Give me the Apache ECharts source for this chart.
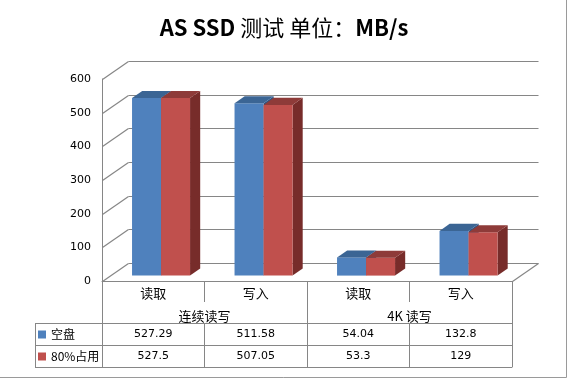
<!DOCTYPE html>
<html>
<head>
<meta charset="utf-8">
<title>AS SSD 测试</title>
<script src="https://cdn.jsdelivr.net/npm/echarts@6/dist/echarts.min.js"></script>
<style>
  html, body { margin: 0; padding: 0; background: #fff; }
  #main { width: 568px; height: 378px; }
</style>
</head>
<body>
<div id="main"></div>
<script>
// 分类 / 分组
var categories = ['读取', '写入', '读取', '写入'];
var groups = ['连续读写', '4K 读写'];
var seriesNames = ['空盘', '80%占用'];
// 测试结果 MB/s
var emptyValues = [527.29, 511.58, 54.04, 132.8];
var usedValues = [527.5, 507.05, 53.3, 129];
// 纵轴刻度
var yTicks = [0, 100, 200, 300, 400, 500, 600];

// 3D 盒子的纵深偏移
var DX = 26, DY = -18;
var FRONT_DEPTH = 0.3, BACK_DEPTH = 0.69;
var BAR_RATIO = 0.283;
var LINE_COLOR = '#868686';
var NUM_FONT = "'DejaVu Sans', sans-serif";
var CJK_FONT = "'Noto Sans CJK SC', sans-serif";

var barColors = [
  { front: '#4F81BD', top: '#3B6594', side: '#2F5483' },
  { front: '#C0504D', top: '#8E3B39', side: '#772C2A' }
];

function seg(x1, y1, x2, y2) {
  return {
    type: 'line',
    shape: { x1: x1, y1: y1, x2: x2, y2: y2 },
    style: { stroke: LINE_COLOR, lineWidth: 1.2 }
  };
}

// 侧墙斜线 + 背墙网格线
function renderWall(params, api) {
  var cs = params.coordSys;
  var v = api.value(1);
  var y = Math.round(api.coord([0, v])[1]) + 0.5;
  var x0 = cs.x + 0.5, x1 = cs.x + cs.width + 0.5;
  var children = [
    seg(x0, y, x0 + DX, y + DY),
    seg(x0 + DX, y + DY, x1 + DX, y + DY)
  ];
  if (v === 0) {
    children.push(seg(x1, y, x1 + DX, y + DY));
  }
  return { type: 'group', children: children };
}

function makeBarRenderer(slot, colors) {
  return function (params, api) {
    var base = api.coord([api.value(0), 0]);
    var top = api.coord([api.value(0), api.value(1)]);
    var band = api.size([1, 0])[0];
    var w = band * BAR_RATIO;
    var fx = base[0] - w + slot * w + DX * FRONT_DEPTH;
    var yb = base[1] + DY * FRONT_DEPTH;
    var yt = top[1] + DY * FRONT_DEPTH;
    var dx = DX * (BACK_DEPTH - FRONT_DEPTH);
    var dy = DY * (BACK_DEPTH - FRONT_DEPTH);
    return {
      type: 'group',
      children: [
        {
          type: 'polygon',
          shape: { points: [[fx + w, yt], [fx + w + dx, yt + dy], [fx + w + dx, yb + dy], [fx + w, yb]] },
          style: { fill: colors.side }
        },
        {
          type: 'rect',
          shape: { x: fx, y: yt, width: w, height: yb - yt },
          style: { fill: colors.front }
        },
        {
          type: 'polygon',
          shape: { points: [[fx, yt], [fx + w, yt], [fx + w + dx, yt + dy], [fx + dx, yt + dy]] },
          style: { fill: colors.top }
        }
      ]
    };
  };
}

function tableAxis(data, offset, tickLen, showLine) {
  return {
    type: 'category',
    position: 'bottom',
    data: data,
    offset: offset,
    axisLine: { show: showLine, lineStyle: { color: LINE_COLOR, width: 1 } },
    axisTick: { show: tickLen > 0, length: tickLen, interval: 0, lineStyle: { color: LINE_COLOR } },
    axisLabel: { show: true, interval: 0, margin: 6, color: '#000', fontSize: 11, fontFamily: NUM_FONT },
    splitLine: { show: false }
  };
}

var chart = echarts.init(document.getElementById('main'));

var catAxis = tableAxis(categories, 0, 21, true);
catAxis.axisLabel.fontSize = 13;
catAxis.axisLabel.fontFamily = CJK_FONT;
var groupAxis = tableAxis(groups, 21, 21, false);
groupAxis.axisLabel.fontSize = 13;
groupAxis.axisLabel.fontFamily = CJK_FONT;
groupAxis.axisLabel.margin = 8;

var option = {
  animation: false,
  backgroundColor: '#fff',
  title: {
    text: '{b|AS SSD }{c|测试 单位：}{b|MB/s}',
    left: 'center',
    top: 12,
    textStyle: {
      rich: {
        b: { fontSize: 22, fontWeight: 'bold', color: '#000', fontFamily: CJK_FONT },
        c: { fontSize: 22, fontWeight: 'normal', color: '#000', fontFamily: CJK_FONT }
      }
    }
  },
  legend: {
    data: seriesNames,
    orient: 'vertical',
    left: 38,
    top: 327.5,
    padding: 0,
    itemWidth: 8,
    itemHeight: 8,
    itemGap: 8,
    icon: 'rect',
    selectedMode: false,
    textStyle: { fontSize: 12, lineHeight: 14, color: '#000', fontFamily: CJK_FONT }
  },
  grid: { left: 102, right: 56, top: 79, bottom: 97 },
  xAxis: [
    catAxis,
    groupAxis,
    tableAxis(emptyValues.map(String), 42, 22, true),
    tableAxis(usedValues.map(String), 64, 22, true),
    tableAxis(['', '', '', ''], 86, 0, true)
  ],
  yAxis: {
    type: 'value',
    min: yTicks[0],
    max: yTicks[yTicks.length - 1],
    interval: yTicks[1] - yTicks[0],
    axisLine: { show: true, lineStyle: { color: LINE_COLOR, width: 1 } },
    axisTick: { show: false },
    splitLine: { show: false },
    axisLabel: { margin: 11, color: '#000', fontSize: 11, fontFamily: NUM_FONT }
  },
  series: [
    {
      type: 'custom',
      name: 'wall',
      silent: true,
      z: 1,
      renderItem: renderWall,
      data: yTicks.map(function (v) { return [0, v]; })
    },
    {
      type: 'custom',
      name: seriesNames[0],
      z: 2,
      itemStyle: { color: barColors[0].front },
      renderItem: makeBarRenderer(0, barColors[0]),
      data: emptyValues.map(function (v, i) { return [i, v]; })
    },
    {
      type: 'custom',
      name: seriesNames[1],
      z: 3,
      itemStyle: { color: barColors[1].front },
      renderItem: makeBarRenderer(1, barColors[1]),
      data: usedValues.map(function (v, i) { return [i, v]; })
    }
  ],
  graphic: [
    // 图例列的格线
    { type: 'line', shape: { x1: 35, y1: 323.5, x2: 102, y2: 323.5 }, style: { stroke: LINE_COLOR } },
    { type: 'line', shape: { x1: 35, y1: 345.5, x2: 102, y2: 345.5 }, style: { stroke: LINE_COLOR } },
    { type: 'line', shape: { x1: 35, y1: 367.5, x2: 102, y2: 367.5 }, style: { stroke: LINE_COLOR } },
    { type: 'line', shape: { x1: 35.5, y1: 323, x2: 35.5, y2: 368 }, style: { stroke: LINE_COLOR } },
    // 图表外框
    { type: 'polyline', shape: { points: [[566.5, 0], [566.5, 377.5], [0, 377.5]] }, style: { stroke: '#9a9a9a', fill: null } }
  ]
};

chart.setOption(option);
</script>
</body>
</html>
